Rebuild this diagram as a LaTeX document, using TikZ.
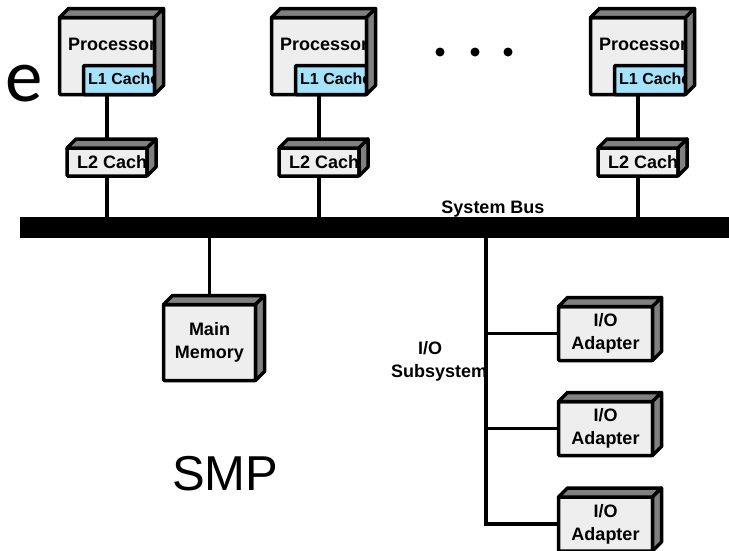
\documentclass[tikz,border=0pt]{standalone}
\usepackage{fontspec}
\setmainfont{Liberation Sans}
\newfontfamily\slidefont{Carlito}
\usetikzlibrary{calc}

\begin{document}
\begin{tikzpicture}[x=1pt,y=-1pt,
		front/.style={draw, line width=3.5pt, fill=gray!13, rounded corners=1pt, inner sep=0pt, outer sep=0pt},
		shade/.style={draw, line width=3.5pt, fill=gray, line join=round},
		wire/.style={line width=3.5pt},
		lbl/.style={font=\fontsize{18}{23}\selectfont\bfseries, align=center, inner sep=0pt}]
		\useasboundingbox (0,0) rectangle (729,550);
		
		%top and side faces of a box
		\def\d{9}
		\def\sides#1{%
			\draw[shade] (#1.north west) -- ++(\d,-\d) -- ($(#1.north east)+(\d,-\d)$) -- (#1.north east) -- cycle;
			\draw[shade] (#1.north east) -- ++(\d,-\d) -- ($(#1.south east)+(\d,-\d)$) -- (#1.south east) -- cycle;}
		
		\node[font=\slidefont\fontsize{75}{75}\selectfont, anchor=base east, inner sep=0pt] (etxt) at (43,101) {e};
		
		%System bus
		\node[fill=black, minimum width=712pt, minimum height=21pt, inner sep=0pt, outer sep=0pt] (bus) at (376,227.5) {};
		\node[lbl, anchor=base] (buslbl) at (493,213) {System Bus};
		
		%One processor
		\def\x{0}
		\node[front, minimum width=95pt, minimum height=77pt] (p1) at (107+\x,56) {};
		\node[lbl, anchor=base west] (p1txt) at (68+\x,50) {Processor};
		\node[front, fill=cyan!35, minimum width=71pt, minimum height=29pt, anchor=south east] (c1) at (p1.south east) {};
		\node[lbl, font=\fontsize{16}{20}\selectfont\bfseries, anchor=base west] (c1txt) at (88+\x,84) {L1 Cache};
		\sides{p1}
		\node[front, minimum width=80pt, minimum height=28pt] (l2a) at (107+\x,162) {};
		\node[lbl, anchor=base west] (l2atxt) at (77+\x,168) {L2 Cache};
		\draw[wire] (p1.south) -- (l2a.north);
		\draw[wire] (l2a.south) -- (l2a.south |- bus.north);
		\sides{l2a}
		
		%One processor
		\def\x{212}
		\node[front, minimum width=95pt, minimum height=77pt] (p2) at (107+\x,56) {};
		\node[lbl, anchor=base west] (p2txt) at (68+\x,50) {Processor};
		\node[front, fill=cyan!35, minimum width=71pt, minimum height=29pt, anchor=south east] (c2) at (p2.south east) {};
		\node[lbl, font=\fontsize{16}{20}\selectfont\bfseries, anchor=base west] (c2txt) at (88+\x,84) {L1 Cache};
		\sides{p2}
		\node[front, minimum width=80pt, minimum height=28pt] (l2b) at (107+\x,162) {};
		\node[lbl, anchor=base west] (l2btxt) at (77+\x,168) {L2 Cache};
		\draw[wire] (p2.south) -- (l2b.north);
		\draw[wire] (l2b.south) -- (l2b.south |- bus.north);
		\sides{l2b}
		
		%One processor
		\def\x{531}
		\node[front, minimum width=95pt, minimum height=77pt] (p3) at (107+\x,56) {};
		\node[lbl, anchor=base west] (p3txt) at (68+\x,50) {Processor};
		\node[front, fill=cyan!35, minimum width=71pt, minimum height=29pt, anchor=south east] (c3) at (p3.south east) {};
		\node[lbl, font=\fontsize{16}{20}\selectfont\bfseries, anchor=base west] (c3txt) at (88+\x,84) {L1 Cache};
		\sides{p3}
		\node[front, minimum width=80pt, minimum height=28pt] (l2c) at (107+\x,162) {};
		\node[lbl, anchor=base west] (l2ctxt) at (77+\x,168) {L2 Cache};
		\draw[wire] (p3.south) -- (l2c.north);
		\draw[wire] (l2c.south) -- (l2c.south |- bus.north);
		\sides{l2c}
		
		\fill (440,52) circle (4.5pt);
		\fill (475,52) circle (4.5pt);
		\fill (508,52) circle (4.5pt);
		
		%Main memory
		\node[front, minimum width=92pt, minimum height=76pt] (mem) at (209.5,342.5) {};
		\node[lbl] (memtxt) at (mem) {Main\\Memory};
		\draw[wire] (bus.south -| mem.north) -- (mem.north);
		\sides{mem}
		
		%I/O subsystem
		\node[lbl, align=left, anchor=west] (iolbl) at (391,361) {\hspace*{27pt}I/O\\Subsystem};
		\coordinate (iotap) at (486,230);
		\node[front, minimum width=94pt, minimum height=54pt] (a1) at (605.5,333.5) {};
		\node[front, minimum width=94pt, minimum height=54pt] (a2) at (605.5,428.5) {};
		\node[front, minimum width=94pt, minimum height=54pt] (a3) at (605.5,524) {};
		\node[lbl] (a1txt) at (a1) {I/O\\Adapter};
		\node[lbl] (a2txt) at (a2) {I/O\\Adapter};
		\node[lbl] (a3txt) at (a3) {I/O\\Adapter};
		\draw[wire] (iotap) |- (a3.west);
		\draw[wire] (iotap |- a1.west) -- (a1.west);
		\draw[wire] (iotap |- a2.west) -- (a2.west);
		\sides{a1}
		\sides{a2}
		\sides{a3}
		
		\node[font=\fontsize{49}{49}\selectfont, anchor=base west, inner sep=0pt] (smp) at (172,490) {SMP};
		
	\end{tikzpicture}
\end{document}
